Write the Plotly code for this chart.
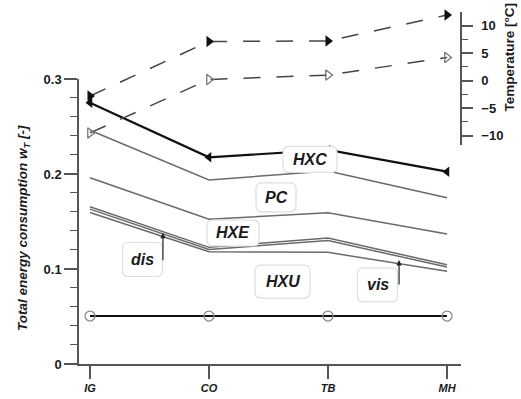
import numpy as np
import plotly.graph_objects as go

# Operating sites
categories = ["IG", "CO", "TB", "MH"]

# Cumulative energy consumption boundaries (stacked contributions), w_T [-]
total = [0.2750, 0.2176, 0.2253, 0.2024]       # top of HXC
hxc_lower = [0.2460, 0.1937, 0.2032, 0.1750]   # HXC / PC
pc_lower = [0.1960, 0.1523, 0.1593, 0.1368]    # PC / HXE
hxe_lower = [0.1655, 0.1228, 0.1325, 0.1045]   # HXE / dis
dis_lower = [0.1630, 0.1205, 0.1300, 0.1020]   # dis / vis
vis_lower = [0.1595, 0.1182, 0.1175, 0.0975]   # vis / HXU
base = [0.0505, 0.0505, 0.0505, 0.0505]        # HXU lower bound

# Site temperatures [°C]
temp_high = [-2.8, 7.1, 7.2, 11.9]
temp_low = [-9.5, 0.2, 1.0, 4.2]

# Axis ticks
w_ticks = [0, 0.1, 0.2, 0.3]
w_ticktext = ["0", "0.1", "0.2", "0.3"]
t_ticks = [-10, -5, 0, 5, 10]

x = list(range(len(categories)))
FONT = "Liberation Sans"
GRAY = "#6a6a6a"
AX = "#555555"

fig = go.Figure()

for arr in [hxc_lower, pc_lower, hxe_lower, dis_lower, vis_lower]:
    fig.add_trace(go.Scatter(x=x, y=arr, mode="lines",
                             line=dict(color=GRAY, width=1.5),
                             showlegend=False, hoverinfo="skip"))

fig.add_trace(go.Scatter(x=x, y=base, mode="lines+markers",
                         line=dict(color="#111111", width=2),
                         marker=dict(symbol="circle-open", size=10, color="#8a8a8a",
                                     line=dict(width=1.3)),
                         cliponaxis=False, showlegend=False))

fig.add_trace(go.Scatter(x=x, y=total, mode="lines+markers",
                         line=dict(color="#111111", width=2.2),
                         marker=dict(symbol="triangle-left", size=9, color="#111111"),
                         cliponaxis=False, showlegend=False))

# Temperatures on the secondary (upper right) axis
fig.add_trace(go.Scatter(x=x, y=temp_high, xaxis="x", yaxis="y2", mode="lines+markers",
                         line=dict(color="#444444", width=1.5, dash="17px,16px"),
                         marker=dict(symbol="triangle-right", size=10, color="#111111"),
                         cliponaxis=False, showlegend=False))
fig.add_trace(go.Scatter(x=x, y=temp_low, xaxis="x", yaxis="y2", mode="lines+markers",
                         line=dict(color="#444444", width=1.5, dash="17px,16px"),
                         marker=dict(symbol="triangle-right-open", size=9, color="#777777",
                                     line=dict(width=1.3)),
                         cliponaxis=False, showlegend=False))


def rounded_box(w, h, r=6):
    a, b = w / 2, h / 2
    return (f"M {-a + r},{-b} L {a - r},{-b} Q {a},{-b} {a},{-b + r} "
            f"L {a},{b - r} Q {a},{b} {a - r},{b} L {-a + r},{b} Q {-a},{b} {-a},{b - r} "
            f"L {-a},{-b + r} Q {-a},{-b} {-a + r},{-b} Z")


# Component labels: text, position, box size in px
labels = [("HXC", 1.849, 0.2153, 54, 26), ("PC", 1.563, 0.1753, 40, 29),
          ("HXE", 1.202, 0.1379, 52, 26), ("dis", 0.441, 0.1100, 40, 34),
          ("HXU", 1.618, 0.0868, 55, 33), ("vis", 2.416, 0.0832, 40, 34)]
for txt, lx, ly, bw, bh in labels:
    fig.add_shape(type="path", xref="x", yref="y", xsizemode="pixel", ysizemode="pixel",
                  xanchor=lx, yanchor=ly, path=rounded_box(bw, bh),
                  fillcolor="white", line=dict(color="#dddddd", width=1.2), layer="above")
    fig.add_annotation(x=lx, y=ly, text=txt, showarrow=False,
                       font=dict(family=FONT, size=16, color="#1a1a1a",
                                 weight="bold", style="italic"))

# Arrows pointing to the thin dis and vis bands
def band_mid(upper, lower, xp):
    return 0.5 * (np.interp(xp, x, upper) + np.interp(xp, x, lower))

for xp, up, lo, tail in [(0.613, hxe_lower, dis_lower, 29), (2.597, dis_lower, vis_lower, 26)]:
    fig.add_annotation(x=xp, y=band_mid(up, lo, xp), ax=0, ay=tail, text="",
                       showarrow=True, arrowhead=2, arrowsize=0.9, arrowwidth=1.2,
                       arrowcolor="#222222")

fig.add_annotation(xref="paper", yref="paper", x=-0.147, y=0.386,
                   xanchor="center", yanchor="middle",
                   text="Total energy consumption <i>w<sub>T</sub></i> [-]",
                   textangle=-90, showarrow=False,
                   font=dict(family=FONT, size=13.5, color="#1a1a1a",
                             weight="bold", style="italic"))
fig.add_annotation(xref="paper", yref="paper", x=1.127, y=0.872,
                   xanchor="center", yanchor="middle",
                   text="Temperature [°C]", textangle=-90, showarrow=False,
                   font=dict(family=FONT, size=13.5, color="#1a1a1a", weight="bold"))

fig.update_layout(
    width=521, height=399,
    margin=dict(l=79, r=60, t=12, b=35, autoexpand=False),
    paper_bgcolor="white", plot_bgcolor="rgba(0,0,0,0)",
    xaxis=dict(range=[-0.0924, 3.1176], tickvals=x, ticktext=categories,
               showgrid=False, zeroline=False, showline=True, linecolor=AX, linewidth=1.5,
               ticks="outside", ticklen=13, tickwidth=1.5, tickcolor=AX,
               tickfont=dict(family=FONT, size=11, color="#1a1a1a",
                             weight="bold", style="italic")),
    yaxis=dict(range=[0, 0.3], domain=[0, 0.8097], tickvals=w_ticks, ticktext=w_ticktext,
               showgrid=False, zeroline=False, showline=True, linecolor=AX, linewidth=1.5,
               ticks="outside", ticklen=13, tickwidth=1.5, tickcolor=AX,
               minor=dict(dtick=0.02, ticks="outside", ticklen=7, tickcolor=AX, tickwidth=1.2),
               tickfont=dict(family=FONT, size=13, color="#1a1a1a", weight="bold")),
    yaxis2=dict(range=[-11.7, 12.45], domain=[0.622, 1.0], anchor="free", position=1.0,
                side="right", tickvals=t_ticks, showgrid=False, zeroline=False,
                showline=True, linecolor=AX, linewidth=1.5,
                ticks="outside", ticklen=11, tickwidth=1.5, tickcolor=AX,
                ticklabelstandoff=6,
                minor=dict(dtick=2.5, ticks="outside", ticklen=6, tickcolor=AX, tickwidth=1.2),
                tickfont=dict(family=FONT, size=13, color="#1a1a1a", weight="bold")),
)

fig.write_html("out.html")
